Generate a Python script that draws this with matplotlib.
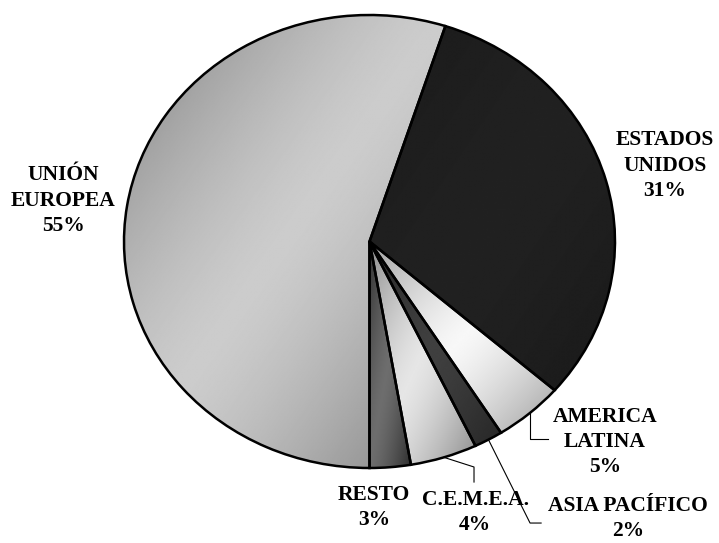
import numpy as np
import matplotlib.pyplot as plt

# data
regions = ['UNIÓN\nEUROPEA', 'ESTADOS\nUNIDOS', 'AMERICA\nLATINA', 'ASIA PACÍFICO', 'C.E.M.E.A.', 'RESTO']
shares = [55.0, 31.4, 4.6, 1.9, 4.4, 2.7]

# grey shades per slice: (edge colour, centre colour) of the diagonal gradient
shade_ends = [0.50, 0.10, 0.62, 0.15, 0.55, 0.18]
shade_mids = [0.80, 0.13, 0.97, 0.25, 0.90, 0.43]

# label positions (data coords, unit pie) and leader elbows
label_pos = [(-1.248, 0.18), (1.204, 0.335), (0.959, -0.885), (1.053, -1.222), (0.43, -1.197), (0.018, -1.175)]
leaders = {2: [(None, -0.872), (0.727, -0.872)],
           3: [(0.654, -1.243), (0.699, -1.243)],
           4: [(0.4257, -0.9956), (0.4257, -1.062)]}

fig = plt.figure(figsize=(7.19, 5.43), dpi=100)
ax = fig.add_axes([124 / 719, (543 - 468) / 543, 491 / 719, 453 / 543])

wedges, _ = ax.pie(shares, startangle=270, counterclock=False,
                   wedgeprops=dict(edgecolor='black', linewidth=1.8, facecolor='none'))
ax.set_aspect('auto')
ax.set_xlim(-1, 1)
ax.set_ylim(-1, 1)
ax.axis('off')

# gradient fill for every wedge, clipped to the wedge shape
n = 300
gx, gy = np.meshgrid(np.linspace(0, 1, n), np.linspace(0, 1, n))
t = (gx + gy) / 2
band = 1 - np.abs(2 * t - 1) ** 1.4
for w, lo, hi in zip(wedges, shade_ends, shade_mids):
    ang = np.radians(np.linspace(w.theta1, w.theta2, 100))
    xs = np.concatenate([[0], np.cos(ang)])
    ys = np.concatenate([[0], np.sin(ang)])
    img = lo + (hi - lo) * band
    im = ax.imshow(img, cmap='gray', vmin=0, vmax=1, origin='upper',
                   extent=(xs.min(), xs.max(), ys.min(), ys.max()),
                   interpolation='bilinear', zorder=0.5, aspect='auto')
    im.set_clip_path(w)
ax.set_xlim(-1, 1)
ax.set_ylim(-1, 1)

# labels
for i, (name, val) in enumerate(zip(regions, shares)):
    x, y = label_pos[i]
    ax.text(x, y, f"{name}\n{round(val):.0f}%", ha='center', va='center',
            fontsize=15.5, fontweight='bold', family='Liberation Serif',
            linespacing=1.36, clip_on=False)

# leader lines from the slice middle
for i, pts in leaders.items():
    w = wedges[i]
    mid = np.radians((w.theta1 + w.theta2) / 2)
    x0, y0 = np.cos(mid), np.sin(mid)
    px = [x0]
    py = [y0]
    for (lx, ly) in pts:
        px.append(x0 if lx is None else lx)
        py.append(ly)
    ax.plot(px, py, color='black', linewidth=0.8, clip_on=False, zorder=3)

fig.savefig('out.png', dpi=100)
